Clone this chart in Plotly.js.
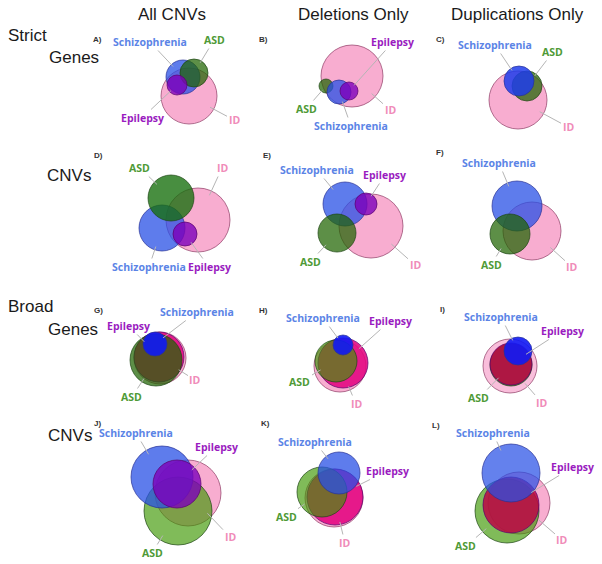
<!DOCTYPE html>
<html><head><meta charset="utf-8">
<script src="https://cdn.plot.ly/plotly-3.0.1.min.js"></script>
<style>body{margin:0;background:#fff}</style>
</head><body>
<div id="chart" style="width:602px;height:564px"></div>
<script>
// ---- data (circle centre x, centre y, radius per panel, in panel units) ----
const panelIds = ['A','B','C','D','E','F','G','H','I','J','K','L'];
const sczX = [95, 71, 71, 74, 77, 69, 67, 75, 70, 74, 71, 63];
const sczY = [52, 67, 56, 88, 64, 66, 59, 60, 66, 62, 58, 58];
const sczR = [17, 12, 15, 23, 22, 25, 12, 10, 14, 31, 21, 29];
const asdX = [106, 58, 79, 83, 69, 62, 68, 68, 63, 90, 54, 59];
const asdY = [48, 61, 61, 58, 93, 94, 75, 76, 80, 96, 77, 96];
const asdR = [14, 7, 15, 23, 19, 20, 26, 21, 21, 34, 25, 32];
const idX  = [101, 84, 70, 110, 103, 84, 72, 72, 62, 100, 66, 71];
const idY  = [71, 51, 75, 80, 86, 91, 73, 81, 81, 78, 83, 88];
const idR  = [28, 31, 29, 32, 32, 29, 26, 26, 27, 33, 29, 31];
const epiX = [89, 81, null, 97, 98, null, 71, 75, 63, 89, 67, 63];
const epiY = [60, 66, null, 94, 64, null, 72, 78, 79, 69, 82, 90];
const epiR = [10, 9, null, 12, 11, null, 25, 25, 21, 24, 28, 28];
const setNames = {scz:'Schizophrenia', asd:'ASD', id:'ID', epi:'Epilepsy'};
const columnTitles = ['All CNVs', 'Deletions Only', 'Duplications Only'];
const rowTitles = [['Strict','Genes'], ['CNVs'], ['Broad','Genes'], ['CNVs']];

// ---- layout geometry / styles ----
const W = 602, H = 564;
const colLeft = [88, 268, 448], colW = [180, 180, 154];
const rowTop = [25, 140, 285, 415], rowH = [115, 145, 130, 149];
const sets = {
  scz:{x:sczX, y:sczY, r:sczR}, asd:{x:asdX, y:asdY, r:asdR},
  id:{x:idX, y:idY, r:idR}, epi:{x:epiX, y:epiY, r:epiR}
};
const textColor = {scz:'#5b84e6', asd:'#4f9a36', id:'#f08cb9', epi:'#9a1cc0'};
const baseFill = {
  id:'rgba(247,155,198,0.82)', scz:'rgba(40,80,230,0.75)',
  asd:'rgba(30,100,0,0.72)', epi:'rgba(125,0,186,0.8)'
};
const edge = {id:'rgba(150,70,110,0.75)', scz:'rgba(40,50,150,0.7)', asd:'rgba(30,70,20,0.7)', epi:'rgba(90,0,110,0.7)'};
const hot = 'rgba(227,5,128,0.88)', crimson = 'rgba(188,5,68,0.85)', deep = 'rgba(15,25,245,0.9)', bright = 'rgba(60,150,0,0.65)';
const override = {
  C:{scz:'rgba(30,60,235,0.85)'},
  D:{asd:'rgba(20,110,10,0.78)'},
  G:{epi:hot, scz:deep}, H:{epi:hot, scz:deep, asd:bright},
  I:{epi:crimson, scz:deep, id:'rgba(247,165,205,0.72)'},
  J:{asd:bright}, K:{epi:hot, asd:bright}, L:{epi:crimson, asd:bright, scz:'rgba(40,80,230,0.72)'}
};
const order = {
  A:['id','scz','asd','epi'], B:['id','asd','scz','epi'], C:['id','asd','scz'],
  D:['id','scz','asd','epi'], E:['id','scz','asd','epi'], F:['id','scz','asd'],
  G:['id','epi','asd','scz'], H:['id','epi','asd','scz'], I:['id','asd','epi','scz'],
  J:['id','asd','scz','epi'], K:['id','epi','asd','scz'], L:['id','asd','epi','scz']
};
const labelPos = {
  A:{scz:[62,17], asd:[126,15], epi:[54,93], id:[146,95]},
  B:{scz:[83,101], asd:[38,84], epi:[125,17], id:[122,85]},
  C:{scz:[47,20], asd:[105,27], id:[120,102]},
  D:{scz:[61,127], asd:[52,28], epi:[121,127], id:[134,28]},
  E:{scz:[49,30], asd:[42,122], epi:[117,35], id:[147,125]},
  F:{scz:[51,23], asd:[43,125], id:[124,127]},
  G:{scz:[109,27], asd:[44,112], epi:[41,41], id:[107,95]},
  H:{scz:[55,33], asd:[32,97], epi:[122,36], id:[88,119]},
  I:{scz:[53,32], asd:[31,113], epi:[114,46], id:[94,118]},
  J:{scz:[48,18], asd:[64,138], epi:[128,32], id:[142,122]},
  K:{scz:[47,27], asd:[18,102], epi:[119,56], id:[77,128]},
  L:{scz:[45,18], asd:[18,131], epi:[125,52], id:[114,125]}
};
const letterPos = [[97,40],[263,40],[440,40],[98,155],[267,155],[440,153],[98,310],[263,310],[442,309],[97,423],[265,423],[436,425]];

const traces = [], shapes = [], annotations = [];
const layout = {
  width:W, height:H, margin:{l:0,r:0,t:0,b:0}, paper_bgcolor:'#fff', plot_bgcolor:'rgba(0,0,0,0)',
  showlegend:false, shapes:shapes, annotations:annotations
};
const labelFont = {family:'Open Sans, Noto Sans, sans-serif', size:10.5, weight:700};

panelIds.forEach((pid, i) => {
  const row = Math.floor(i/3), col = i % 3, n = i + 1;
  const xa = 'x' + (n>1?n:''), ya = 'y' + (n>1?n:'');
  const axOpts = {visible:false, showgrid:false, zeroline:false, fixedrange:true};
  layout['xaxis' + (n>1?n:'')] = Object.assign({}, axOpts, {
    domain:[colLeft[col]/W, (colLeft[col]+colW[col])/W], range:[0, colW[col]], anchor:ya});
  layout['yaxis' + (n>1?n:'')] = Object.assign({}, axOpts, {
    domain:[1-(rowTop[row]+rowH[row])/H, 1-rowTop[row]/H], range:[rowH[row], 0], anchor:xa});
  const cxs = [], cys = [];
  order[pid].forEach(k => { cxs.push(sets[k].x[i]); cys.push(sets[k].y[i]); });
  traces.push({type:'scatter', mode:'markers', x:cxs, y:cys, xaxis:xa, yaxis:ya,
    marker:{size:1, opacity:0}, hoverinfo:'skip'});
  order[pid].forEach(k => {
    const cx = sets[k].x[i], cy = sets[k].y[i], r = sets[k].r[i];
    if (cx == null) return;
    const fill = (override[pid] && override[pid][k]) || baseFill[k];
    shapes.push({type:'circle', xref:xa, yref:ya, x0:cx-r, x1:cx+r, y0:cy-r, y1:cy+r,
      fillcolor:fill, line:{color:edge[k], width:1}, layer:'above'});
    const lp = labelPos[pid][k];
    const dx = lp[0]-cx, dy = lp[1]-cy, d = Math.hypot(dx, dy);
    const tx = cx + 0.85*r*dx/d, ty = cy + 0.85*r*dy/d;
    annotations.push({xref:xa, yref:ya, x:tx, y:ty, ax:lp[0]-tx, ay:lp[1]-ty,
      xanchor:'center', yanchor:'middle',
      text:setNames[k], showarrow:true, arrowhead:0, arrowwidth:1, arrowcolor:'#b5b5b5',
      standoff:0, font:Object.assign({}, labelFont, {color:textColor[k]})});
  });
  annotations.push({xref:'paper', yref:'paper', x:letterPos[i][0]/W, y:1-letterPos[i][1]/H,
    xanchor:'center', yanchor:'middle',
    text:'<b>'+pid+')</b>', showarrow:false, font:{family:'Liberation Sans, Arial', size:8, color:'#333'}});
});

const titleFont = {family:'Liberation Sans, Arial, sans-serif', size:17, color:'#1a1a1a'};
const colTitleX = [172, 353, 517];
columnTitles.forEach((t, c) => annotations.push({xref:'paper', yref:'paper', x:colTitleX[c]/W, y:1-15/H,
  xanchor:'center', yanchor:'middle', text:t, showarrow:false, font:titleFont}));
const rowTitlePos = [[[27,35],[74,58]], [[69,175]], [[30,306],[73,329]], [[70,435]]];
rowTitles.forEach((arr, r) => arr.forEach((t, j) => annotations.push({xref:'paper', yref:'paper',
  x:rowTitlePos[r][j][0]/W, y:1-rowTitlePos[r][j][1]/H, xanchor:'center', yanchor:'middle',
  text:t, showarrow:false, font:titleFont})));

Plotly.newPlot('chart', traces, layout, {displayModeBar:false, staticPlot:true});
</script>
</body></html>
